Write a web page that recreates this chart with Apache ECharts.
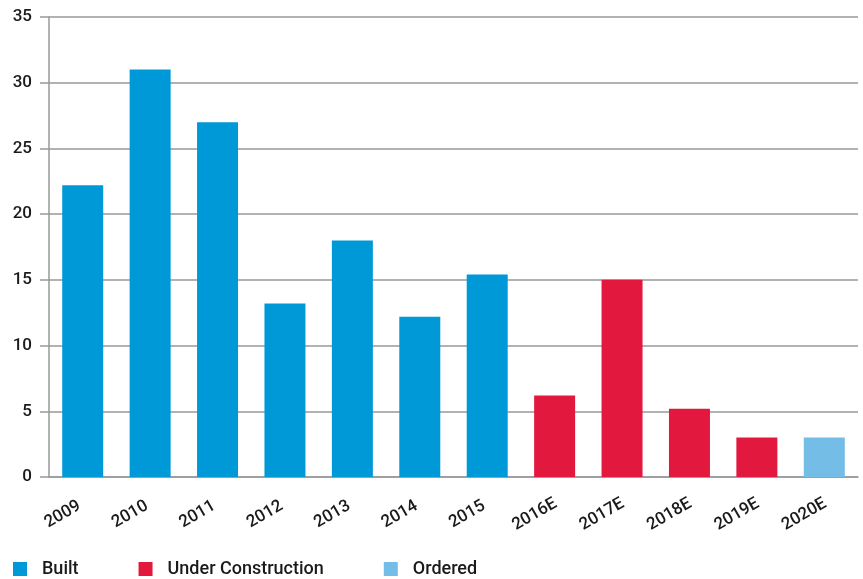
<!DOCTYPE html>
<html>
<head>
<meta charset="utf-8">
<script src="https://cdn.jsdelivr.net/npm/echarts@6/dist/echarts.min.js"></script>
<style>
  html, body { margin: 0; padding: 0; background: #fff; }
  #main { width: 863px; height: 579px; }
</style>
</head>
<body>
<div id="main"></div>
<script>
const years = ['2009', '2010', '2011', '2012', '2013', '2014', '2015', '2016E', '2017E', '2018E', '2019E', '2020E']
const built = [22.2, 31, 27, 13.2, 18, 12.2, 15.4, null, null, null, null, null]
const underConstruction = [null, null, null, null, null, null, null, 6.2, 15, 5.2, 3, null]
const ordered = [null, null, null, null, null, null, null, null, null, null, null, 3]

const font = 'Roboto, "DejaVu Sans", sans-serif'
const myChart = echarts.init(document.getElementById('main'))

const barSeries = (name, data, color) => ({
  name: name,
  type: 'bar',
  stack: 'all',
  data: data,
  barWidth: 41,
  itemStyle: { color: color }
})

const option = {
  animation: false,
  textStyle: { fontFamily: font },
  grid: { left: 49, right: 5, top: 17, bottom: 102 },
  legend: {
    left: 8,
    top: 555,
    icon: 'rect',
    itemWidth: 14,
    itemHeight: 14,
    itemGap: 60,
    textStyle: { fontSize: 18, fontWeight: 500, color: '#1a1a1a', padding: [0, 0, 0, 10] },
    data: ['Built', 'Under Construction', 'Ordered']
  },
  xAxis: {
    type: 'category',
    data: years,
    axisLine: { lineStyle: { color: '#999', width: 1.5 } },
    axisTick: { length: 7, lineStyle: { color: '#999', width: 1.5 } },
    axisLabel: {
      interval: 0,
      rotate: 30,
      align: 'center',
      verticalAlign: 'middle',
      padding: [0, 46, 0, 0],
      fontSize: 17,
      fontWeight: 500,
      color: '#1a1a1a',
      margin: 26
    }
  },
  yAxis: {
    type: 'value',
    min: 0,
    max: 35,
    interval: 5,
    axisLine: { show: true, lineStyle: { color: '#999', width: 1.5 } },
    axisTick: { show: true, length: 9, lineStyle: { color: '#999', width: 1.5 } },
    axisLabel: { fontSize: 17, fontWeight: 500, color: '#1a1a1a', margin: 17 },
    splitLine: { lineStyle: { color: '#999', width: 1.5 } }
  },
  series: [
    barSeries('Built', built, '#0099d8'),
    barSeries('Under Construction', underConstruction, '#e3183e'),
    barSeries('Ordered', ordered, '#74bde6')
  ]
}

myChart.setOption(option)
</script>
</body>
</html>
